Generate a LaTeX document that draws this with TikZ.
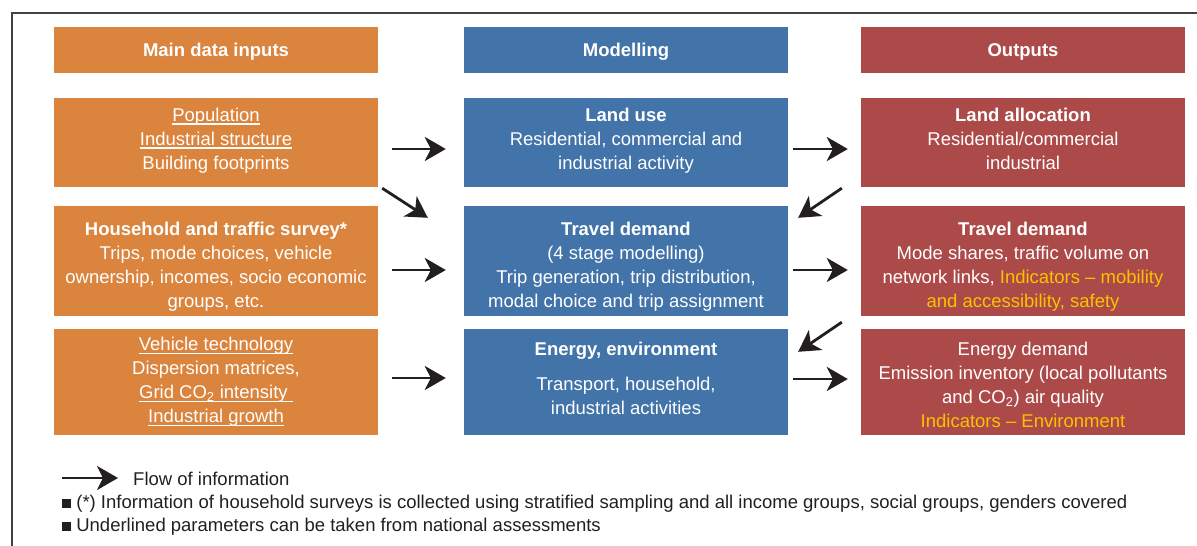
\documentclass[tikz,border=0pt]{standalone}
\usepackage{fontspec}
\setmainfont{Liberation Sans}
\usetikzlibrary{arrows.meta}

% underline at a fixed depth, as in the source figure
\newcommand\ulx[1]{\setbox0\hbox{#1}\rlap{\rule[-3.5pt]{\wd0}{1.3pt}}\box0}
% struts to nudge text inside the boxes
\newcommand\topgap[1]{\rule{0pt}{#1}}
\newcommand\botgap[1]{\rule[-#1]{0pt}{#1}}

\begin{document}
\begin{tikzpicture}[x=1pt,y=-1pt]
        \tikzset{>=Stealth}
        \definecolor{in-fill}{HTML}{DA843D}
        \definecolor{mod-fill}{HTML}{4273A9}
        \definecolor{out-fill}{HTML}{AB4A48}
        \definecolor{hl-text}{HTML}{FFC000}
        \definecolor{ink}{HTML}{231F20}
        \tikzstyle{box}=[rectangle,minimum width=324pt,inner sep=0pt,text=white,align=center,font=\fontsize{18.5}{24}\selectfont]
        \tikzstyle{head}=[box,minimum height=46pt,text height=13.5pt,text depth=0pt,font=\fontsize{18.5}{24}\selectfont\bfseries]
        \tikzstyle{flow}=[-{Stealth[length=21pt,width=24pt,inset=6pt]},line width=2.8pt,draw=ink]
        \tikzstyle{feed}=[flow,shorten <=14pt,shorten >=18pt]
        \tikzstyle{emit}=[flow,shorten <=5pt,shorten >=13pt]
        \tikzstyle{note}=[anchor=base west,inner sep=0pt,text=ink,font=\fontsize{18.5}{24}\selectfont]

        \useasboundingbox (0,0) rectangle (1197,546);
        \draw [line width=1.6pt, draw=ink!85] (12,546) -- (12,13) -- (1197,13);

        % headers
        \node [head, fill=in-fill] (hin) at (216,50) {Main data inputs};
        \node [head, fill=mod-fill] (hmod) at (626,50) {Modelling};
        \node [head, fill=out-fill] (hout) at (1023,50) {Outputs};

        % inputs
        \node [box, fill=in-fill, minimum height=89pt] (in1) at (216,142.5)
            {\ulx{Population}\\ \ulx{Industrial structure}\\ Building footprints\botgap{8pt}};
        \node [box, fill=in-fill, minimum height=110pt] (in2) at (216,261)
            {\topgap{25.5pt}\textbf{Household and traffic survey*}\\ Trips, mode choices, vehicle\\ ownership, incomes, socio economic\\ groups, etc.};
        \node [box, fill=in-fill, minimum height=106pt] (in3) at (216,382)
            {\ulx{Vehicle technology}\\ Dispersion matrices,\\ \ulx{Grid CO\textsubscript{2} intensity\ }\\ \ulx{Industrial growth}};

        % modelling
        \node [box, fill=mod-fill, minimum height=89pt] (mod1) at (626,142.5)
            {\textbf{Land use}\\ Residential, commercial and\\ industrial activity\botgap{8pt}};
        \node [box, fill=mod-fill, minimum height=110pt] (mod2) at (626,261)
            {\topgap{25.5pt}\textbf{Travel demand}\\ (4 stage modelling)\\ Trip generation, trip distribution,\\ modal choice and trip assignment};
        \node [box, fill=mod-fill, minimum height=106pt] (mod3) at (626,382)
            {\textbf{Energy, environment}\\[11pt] Transport, household,\\ industrial activities\botgap{8pt}};

        % outputs
        \node [box, fill=out-fill, minimum height=89pt] (out1) at (1023,142.5)
            {\textbf{Land allocation}\\ Residential/commercial\\ industrial\botgap{8pt}};
        \node [box, fill=out-fill, minimum height=110pt] (out2) at (1023,261)
            {\topgap{25.5pt}\textbf{Travel demand}\\ Mode shares, traffic volume on\\ network links, \textcolor{hl-text}{Indicators – mobility}\\ \textcolor{hl-text}{and accessibility, safety}};
        \node [box, fill=out-fill, minimum height=106pt] (out3) at (1023,382)
            {\topgap{19.5pt}Energy demand\\ Emission inventory (local pollutants\\ and CO\textsubscript{2}) air quality\\ \textcolor{hl-text}{Indicators – Environment}};

        % flows
        \draw [feed] ([yshift=-6.5pt]in1.east) -- ([yshift=-6.5pt]mod1.west);
        \draw [feed] ([yshift=-9pt]in2.east) -- ([yshift=-9pt]mod2.west);
        \draw [feed] ([yshift=4pt]in3.east) -- ([yshift=4pt]mod3.west);
        \draw [flow] ([shift={(4pt,-1pt)}]in1.south east) -- ([shift={(-36pt,-12pt)}]mod2.north west);
        \draw [emit] ([yshift=-6.5pt]mod1.east) -- ([yshift=-6.5pt]out1.west);
        \draw [emit] ([yshift=-9pt]mod2.east) -- ([yshift=-9pt]out2.west);
        \draw [emit] ([yshift=3pt]mod3.east) -- ([yshift=3pt]out3.west);
        \draw [flow] ([shift={(-19pt,-1pt)}]out1.south west) -- ([shift={(10pt,-12pt)}]mod2.north east);
        \draw [flow] ([shift={(-19pt,-6pt)}]out2.south west) -- ([shift={(10pt,-23pt)}]mod3.north east);

        % legend
        \coordinate (lgA) at (62,478);
        \node [note] (lgT) at (133,485) {Flow of information};
        \draw [flow, shorten >=15pt] (lgA) -- (lgA -| lgT.west);
        \node [note] (note1) at (62,508.5) {\rule[0.5pt]{9pt}{9pt} (*) Information of household surveys is collected using stratified sampling and all income groups, social groups, genders covered};
        \node [note] (note2) at (62,531.5) {\rule[0.5pt]{9pt}{9pt} Underlined parameters can be taken from national assessments};
    \end{tikzpicture}
\end{document}
